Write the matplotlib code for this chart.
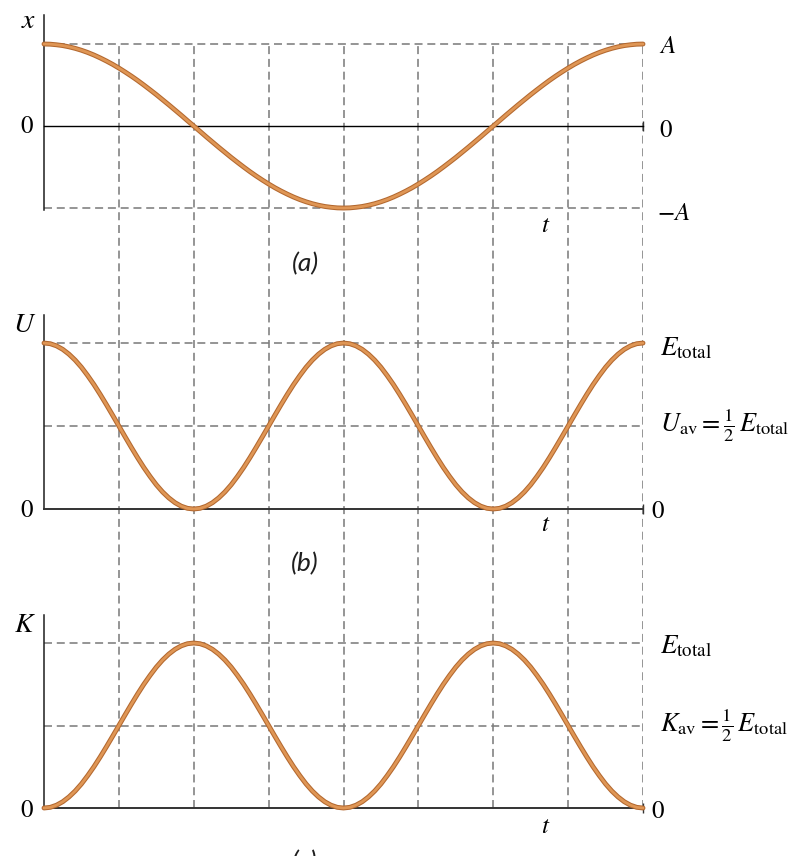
import numpy as np
import matplotlib
matplotlib.use("Agg")
import matplotlib.pyplot as plt

# ── Dados (passo de 1/96 de período) ────────────────────────────────────────
t = np.linspace(0.0, 1.0, 97)

x_pos = [1.000, 0.998, 0.991, 0.981, 0.966, 0.947, 0.924, 0.897, 0.866, 0.831, 0.793, 0.752,
         0.707, 0.659, 0.609, 0.556, 0.500, 0.442, 0.383, 0.321, 0.259, 0.195, 0.131, 0.065,
         0.000, -0.065, -0.131, -0.195, -0.259, -0.321, -0.383, -0.442, -0.500, -0.556, -0.609, -0.659,
         -0.707, -0.752, -0.793, -0.831, -0.866, -0.897, -0.924, -0.947, -0.966, -0.981, -0.991, -0.998,
         -1.000, -0.998, -0.991, -0.981, -0.966, -0.947, -0.924, -0.897, -0.866, -0.831, -0.793, -0.752,
         -0.707, -0.659, -0.609, -0.556, -0.500, -0.442, -0.383, -0.321, -0.259, -0.195, -0.131, -0.065,
         0.000, 0.065, 0.131, 0.195, 0.259, 0.321, 0.383, 0.442, 0.500, 0.556, 0.609, 0.659,
         0.707, 0.752, 0.793, 0.831, 0.866, 0.897, 0.924, 0.947, 0.966, 0.981, 0.991, 0.998,
         1.000]

u_pot = [1.000, 0.996, 0.983, 0.962, 0.933, 0.897, 0.854, 0.804, 0.750, 0.691, 0.629, 0.565,
         0.500, 0.435, 0.371, 0.309, 0.250, 0.196, 0.146, 0.103, 0.067, 0.038, 0.017, 0.004,
         0.000, 0.004, 0.017, 0.038, 0.067, 0.103, 0.146, 0.196, 0.250, 0.309, 0.371, 0.435,
         0.500, 0.565, 0.629, 0.691, 0.750, 0.804, 0.854, 0.897, 0.933, 0.962, 0.983, 0.996,
         1.000, 0.996, 0.983, 0.962, 0.933, 0.897, 0.854, 0.804, 0.750, 0.691, 0.629, 0.565,
         0.500, 0.435, 0.371, 0.309, 0.250, 0.196, 0.146, 0.103, 0.067, 0.038, 0.017, 0.004,
         0.000, 0.004, 0.017, 0.038, 0.067, 0.103, 0.146, 0.196, 0.250, 0.309, 0.371, 0.435,
         0.500, 0.565, 0.629, 0.691, 0.750, 0.804, 0.854, 0.897, 0.933, 0.962, 0.983, 0.996,
         1.000]

k_cin = [0.000, 0.004, 0.017, 0.038, 0.067, 0.103, 0.146, 0.196, 0.250, 0.309, 0.371, 0.435,
         0.500, 0.565, 0.629, 0.691, 0.750, 0.804, 0.854, 0.897, 0.933, 0.962, 0.983, 0.996,
         1.000, 0.996, 0.983, 0.962, 0.933, 0.897, 0.854, 0.804, 0.750, 0.691, 0.629, 0.565,
         0.500, 0.435, 0.371, 0.309, 0.250, 0.196, 0.146, 0.103, 0.067, 0.038, 0.017, 0.004,
         0.000, 0.004, 0.017, 0.038, 0.067, 0.103, 0.146, 0.196, 0.250, 0.309, 0.371, 0.435,
         0.500, 0.565, 0.629, 0.691, 0.750, 0.804, 0.854, 0.897, 0.933, 0.962, 0.983, 0.996,
         1.000, 0.996, 0.983, 0.962, 0.933, 0.897, 0.854, 0.804, 0.750, 0.691, 0.629, 0.565,
         0.500, 0.435, 0.371, 0.309, 0.250, 0.196, 0.146, 0.103, 0.067, 0.038, 0.017, 0.004,
         0.000]

grid_t = [0.125, 0.25, 0.375, 0.5, 0.625, 0.75, 0.875, 1.0]
niveis_x = [1.0, -1.0]
niveis_e = [1.0, 0.5]

# ── Estilo ───────────────────────────────────────────────────────────────────
W, H = 800, 856
BORDA = "#b3682f"
MIOLO = "#df9655"
CINZA = "#7d7d7d"
TRACO = (0, (5.0, 3.0))

plt.rcParams.update({
    "mathtext.fontset": "stix",
    "font.size": 18,
})

fig = plt.figure(figsize=(W / 100, H / 100), dpi=100)
fig.patch.set_facecolor("white")


def fx(px):
    return px / W


def fy(py):
    return 1 - py / H


def rect(x0, y_top, x1, y_bot):
    return [fx(x0), fy(y_bot), fx(x1) - fx(x0), (y_bot - y_top) / H]


# linhas verticais tracejadas que atravessam os três painéis
ax_g = fig.add_axes(rect(44, 44, 643, 808), zorder=0)
ax_g.set_xlim(0, 1)
ax_g.set_ylim(0, 1)
ax_g.axis("off")
ax_g.vlines(grid_t, 0, 1, colors=CINZA, linestyles=TRACO, lw=1.15)


def painel(r, ylim, y, niveis, lw_base=1.0):
    ax = fig.add_axes(r, zorder=2)
    ax.patch.set_visible(False)
    ax.hlines(niveis, 0, 1, colors=CINZA, linestyles=TRACO, lw=1.15)
    ax.plot(t, y, color=BORDA, lw=3.5, clip_on=False, zorder=3,
            solid_joinstyle="round", solid_capstyle="round")
    ax.plot(t, y, color=MIOLO, lw=2.0, clip_on=False, zorder=4,
            solid_joinstyle="round", solid_capstyle="round")
    ax.set_xlim(0, 1)
    ax.set_ylim(*ylim)
    for s in ("top", "right"):
        ax.spines[s].set_visible(False)
    ax.spines["bottom"].set_position(("data", 0))
    ax.spines["left"].set_color("#1e1e1e")
    ax.spines["left"].set_linewidth(1.1)
    ax.spines["bottom"].set_color("#333333")
    ax.spines["bottom"].set_linewidth(lw_base)
    ax.set_xticks([1.0])
    ax.set_xticklabels([])
    ax.set_yticks([])
    ax.tick_params(axis="x", direction="inout", length=7, width=1.0, color="#333333")
    return ax


ax_a = painel(rect(44, 15, 643, 210), (-1.024, 1.354), x_pos, niveis_x)
ax_b = painel(rect(44, 315, 643, 509), (0, 1.169), u_pot, niveis_e, lw_base=1.4)
ax_c = painel(rect(44, 615, 643, 808), (0, 1.170), k_cin, niveis_e, lw_base=1.4)
ax_a.spines["bottom"].set_color("black")


def txt(px, py, s, ha="left", size=18):
    fig.text(fx(px), fy(py), s, ha=ha, va="baseline", fontsize=size)


# rótulos à esquerda
txt(36, 28, r"$x$", ha="right", size=20)
txt(36, 332, r"$U$", ha="right", size=20)
txt(36, 632, r"$K$", ha="right", size=20)
for yb in (133, 517, 817):
    txt(34, yb, r"$0$", ha="right")

# rótulos à direita
txt(659, 53, r"$A$")
txt(659, 137, r"$0$")
txt(657, 220, r"$-A$")
txt(660, 355, r"$E_{\rm total}$", size=19.5)
txt(660, 432, r"$U_{\rm av} = \frac{1}{2}\,E_{\rm total}$", size=19)
txt(651, 518, r"$0$")
txt(660, 653, r"$E_{\rm total}$", size=19.5)
txt(660, 732, r"$K_{\rm av} = \frac{1}{2}\,E_{\rm total}$", size=19)
txt(651, 818, r"$0$")

# eixo t
for yb in (232, 531, 833):
    txt(546, yb, r"$t$", ha="center")

# legendas dos painéis
for yc, s in ((264, "(a)"), (564, "(b)"), (862, "(c)")):
    fig.text(fx(305), fy(yc), s, ha="center", va="center", fontsize=19,
             family=["Lato", "DejaVu Sans"], style="italic", color="#1e1e1e")

fig.savefig("out.png", dpi=100, facecolor="white")
plt.close(fig)
